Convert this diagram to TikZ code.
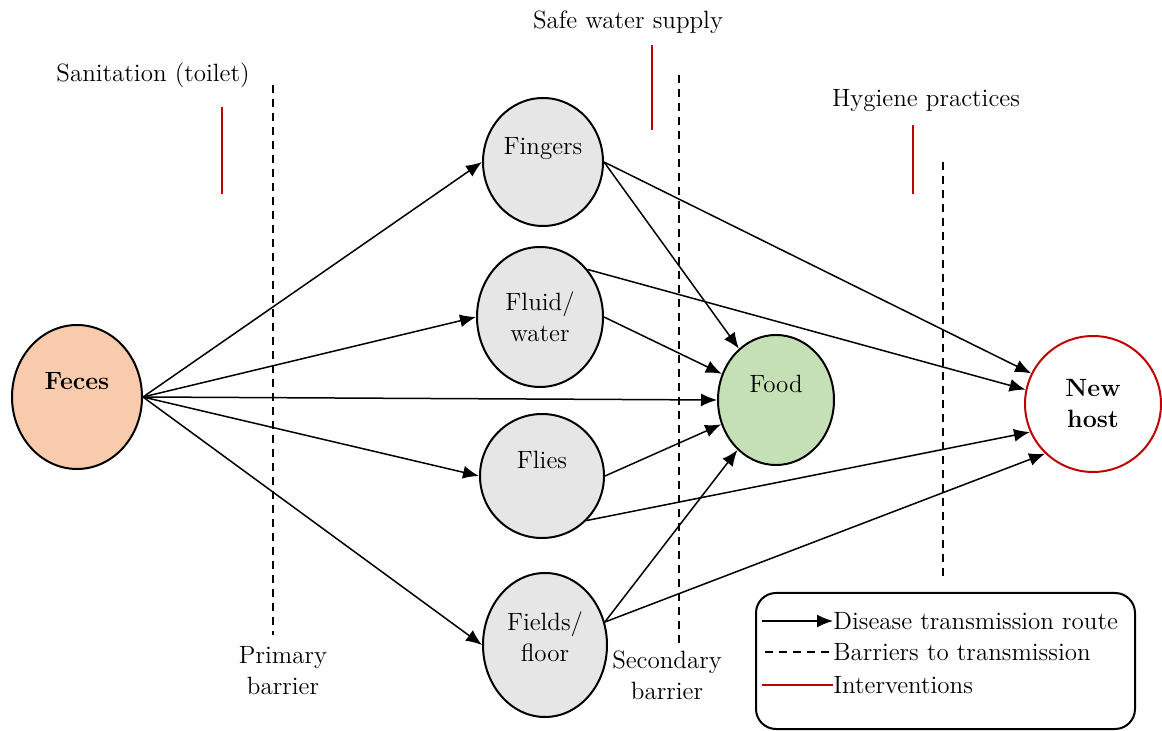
\documentclass[tikz,border=0pt]{standalone}
\usepackage{xcolor}
\usepackage{tikz}
\usetikzlibrary{shapes.geometric, arrows.meta}
\usetikzlibrary{positioning}
\definecolor{fecesfill}{HTML}{F8CBAD}
\definecolor{foodfill}{HTML}{C5E0B4}
\definecolor{routefill}{HTML}{E6E6E6}
\definecolor{interred}{HTML}{C00000}
\newcommand{\diagfont}{\fontsize{12.5}{15.5}\selectfont}
\tikzstyle{source} = [ellipse, minimum width=65pt, minimum height=72pt, inner sep=0pt, draw=black, line width=1pt, fill=fecesfill, font=\diagfont\bfseries]
\tikzstyle{route} = [ellipse, inner sep=0pt, draw=black, line width=1pt, fill=routefill, align=center]
\tikzstyle{target} = [ellipse, inner sep=0pt, line width=1pt, align=center]
\tikzstyle{oneline} = [text height=8pt, text depth=15pt]
\tikzstyle{twoline} = [text depth=8pt]
\tikzstyle{arrow} = [line width=0.75pt, -{Latex[length=8pt,width=6.5pt]}]
\tikzstyle{barrier} = [line width=1.4pt, dash pattern=on 4pt off 3pt]
\tikzstyle{intervention} = [line width=1pt, draw=interred]

\begin{document}
\begin{tikzpicture}[x=0.5pt, y=-0.5pt, every node/.style={font=\diagfont}]
\useasboundingbox (0,0) rectangle (1162,731);
\node (feces) [source, oneline] at (77,397) {Feces};
\node (fingers) [route, oneline, minimum width=60pt, minimum height=64pt] at (543,162) {Fingers};
\node (fluid) [route, minimum width=63pt, minimum height=70pt] at (540,317) {Fluid/\\ water};
\node (flies) [route, oneline, minimum width=62pt, minimum height=62pt] at (542,476) {Flies};
\node (fields) [route, twoline, minimum width=62pt, minimum height=72pt] at (545,645) {Fields/\\ floor};
\node (food) [target, oneline, draw=black, fill=foodfill, minimum width=58pt, minimum height=65pt] at (776,400) {Food};
\node (new_host) [target, draw=interred, minimum size=68pt, font=\diagfont\bfseries] at (1093,404) {New\\ host};

\node (sanitation) at (153,75) {Sanitation (toilet)};
\node (safe_water) at (628,22) {Safe water supply};
\node (hygiene) at (926,101) {Hygiene practices};
\node (primary) [align=center] at (283,671) {Primary\\ barrier};
\node (secondary) [align=center] at (667,675) {Secondary\\ barrier};

% barriers and interventions
\draw [barrier] (273,85) -- (273,635);
\draw [barrier] (679,75) -- (679,645);
\draw [barrier] (943,162) -- (943,580);
\draw [intervention] (222,107) -- (222,194);
\draw [intervention] (652,45) -- (652,130);
\draw [intervention] (913,125) -- (913,194);

% transmission routes
\draw [arrow] (feces.east) -- (fingers.west);
\draw [arrow] (feces.east) -- (fluid.west);
\draw [arrow] (feces.east) -- (food.west);
\draw [arrow] (feces.east) -- (flies.west);
\draw [arrow] (feces.east) -- (fields.west);
\draw [arrow] (fingers.east) -- (food);
\draw [arrow] (fingers.east) -- (new_host);
\draw [arrow] (fluid.45) -- (new_host.168);
\draw [arrow] (fluid.east) -- (food);
\draw [arrow] (flies.east) -- (food);
\draw [arrow] (flies.-45) -- (new_host.204);
\draw [arrow] (fields.21) -- (food);
\draw [arrow] (fields.21) -- (new_host.226);

% legend
\draw [line width=1pt, rounded corners=10pt] (756,593) rectangle (1135,729);
\node (leg_route) [anchor=west, inner sep=0pt] at (833,621) {Disease transmission route};
\node (leg_barrier) [anchor=west, inner sep=0pt] at (833,652) {Barriers to transmission};
\node (leg_inter) [anchor=west, inner sep=0pt] at (833,685) {Interventions};
\coordinate (leg_route_start) at (762,621);
\coordinate (leg_barrier_start) at (765,652);
\coordinate (leg_inter_start) at (762,685);
\draw [arrow] (leg_route_start) -- (leg_route.west);
\draw [barrier] (leg_barrier_start) -- (leg_barrier.west);
\draw [intervention] (leg_inter_start) -- (leg_inter.west);
\end{tikzpicture}
\end{document}
